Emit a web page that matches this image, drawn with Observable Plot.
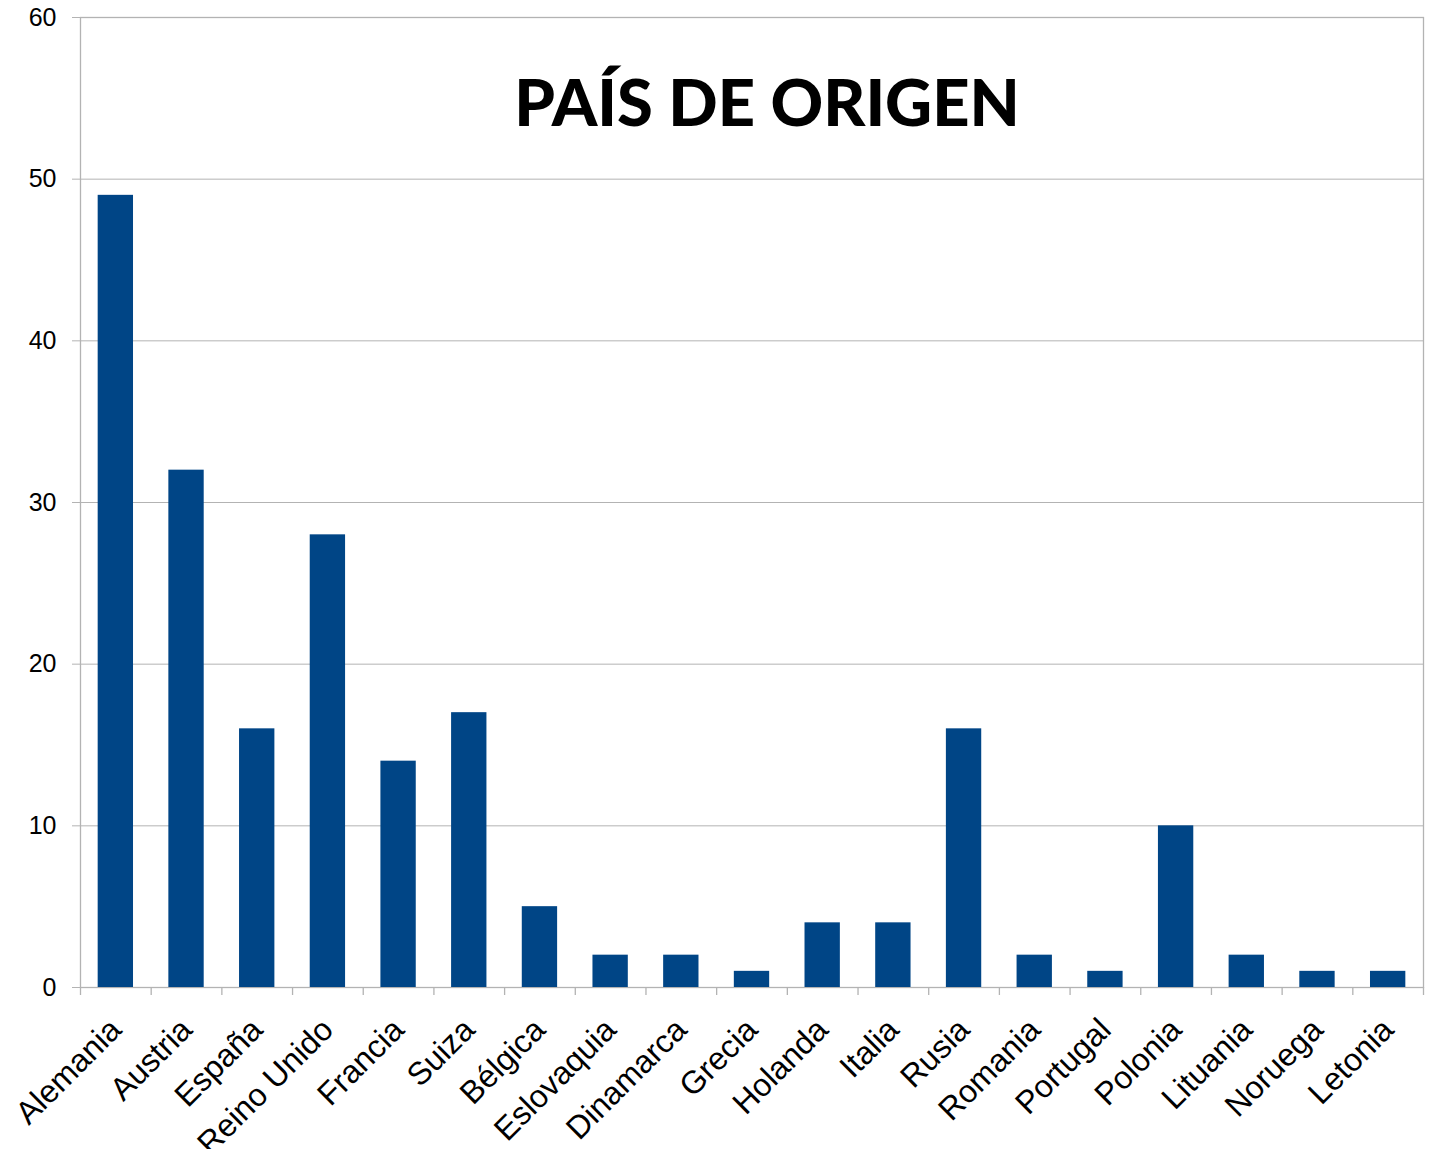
<!DOCTYPE html>
<html>
<head>
<meta charset="utf-8">
<script src="https://cdn.jsdelivr.net/npm/d3@7"></script>
<script src="https://cdn.jsdelivr.net/npm/@observablehq/plot@0.6"></script>
<style>
  html, body { margin: 0; padding: 0; background: #fff; }
  #chart svg { display: block; }
</style>
</head>
<body>
<div id="chart"></div>
<script>
const countries = ["Alemania","Austria","España","Reino Unido","Francia","Suiza","Bélgica","Eslovaquia","Dinamarca","Grecia","Holanda","Italia","Rusia","Romania","Portugal","Polonia","Lituania","Noruega","Letonia"];
const counts = [49,32,16,28,14,17,5,2,2,1,4,4,16,2,1,10,2,1,1];
const yTicks = [0,10,20,30,40,50,60];
const title = "PAÍS DE ORIGEN";

const data = countries.map((c, i) => ({country: c, value: counts[i]}));

const W = 1431, H = 1149;
const margins = {marginLeft: 80, marginRight: 8, marginTop: 17, marginBottom: 162};
const xOpts = {type: "band", domain: countries, paddingInner: 0.5, paddingOuter: 0.25, align: 0.5, round: false};

// first pass to read the band step from the library's scale
const probe = Plot.plot({width: W, height: H, ...margins, x: xOpts,
  marks: [Plot.barY(data, {x: "country", y: "value"})]});
const step = probe.scale("x").step;

const plot = Plot.plot({
  width: W, height: H, ...margins,
  style: {fontFamily: "'Liberation Sans', Arial, sans-serif", background: "#fff"},
  x: {...xOpts, axis: null},
  y: {domain: [0, 60], ticks: yTicks, label: null},
  marks: [
    Plot.gridY(yTicks, {stroke: "#b3b3b3", strokeOpacity: 1, strokeWidth: 1}),
    Plot.frame({stroke: "#b3b3b3", strokeWidth: 1.3}),
    Plot.axisY(yTicks, {tickSize: 8, tickPadding: 16, stroke: "#b3b3b3", strokeOpacity: 1,
      fill: "#000", fontSize: 25, label: null}),
    Plot.barY(data, {x: "country", y: "value", fill: "#004586"}),
    Plot.ruleX(countries, {x: d => d, y1: 0, y2: 0, dx: -step / 2, insetBottom: -8, stroke: "#b3b3b3", strokeWidth: 1.3}),
    Plot.ruleX([countries[countries.length - 1]], {x: d => d, y1: 0, y2: 0, dx: step / 2, insetBottom: -8, stroke: "#b3b3b3", strokeWidth: 1.3}),
    Plot.text(countries, {x: d => d, y: 0, text: d => d, rotate: -45, textAnchor: "end",
      dx: 0, dy: 37, fontSize: 32, fill: "#000"}),
    Plot.text([title], {frameAnchor: "top", text: d => d, dx: 15, dy: 62,
      fontSize: 65, fontWeight: 900, fontFamily: "Lato, 'Open Sans', sans-serif", fill: "#000"})
  ]
});

document.getElementById("chart").appendChild(plot);
</script>
</body>
</html>
